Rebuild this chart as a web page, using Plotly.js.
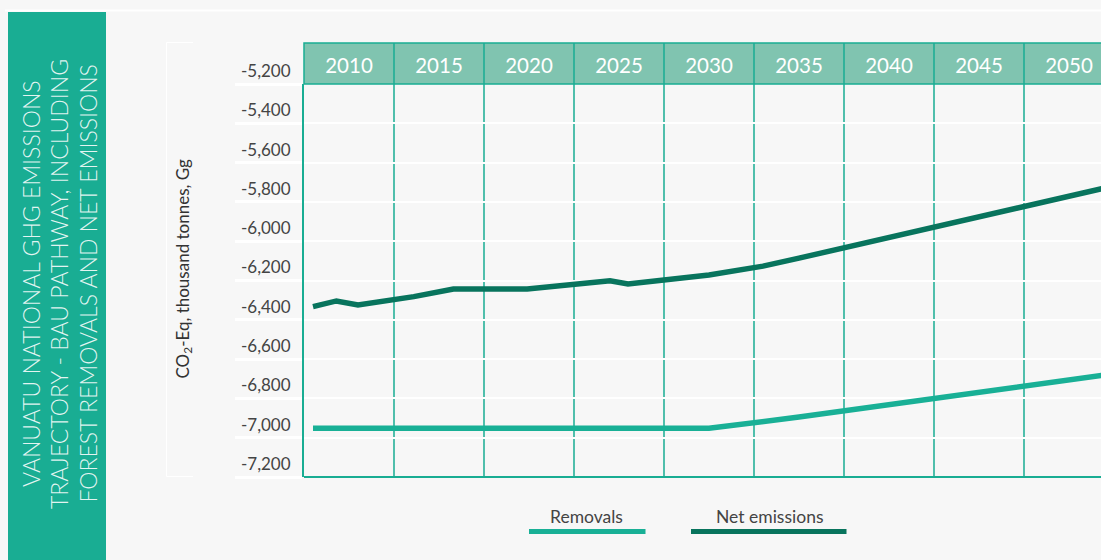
<!DOCTYPE html>
<html>
<head>
<meta charset="utf-8">
<script src="https://cdn.plot.ly/plotly-3.0.1.min.js"></script>
<style>
  html, body { margin: 0; padding: 0; background: #f7f7f7; }
  #chart { width: 1101px; height: 560px; }
</style>
</head>
<body>
<div id="chart"></div>
<script>
// ---- data -------------------------------------------------------------
const periodYears = [2010, 2015, 2020, 2025, 2030, 2035, 2040, 2045, 2050];
const periodLabels = ['2010', '2015', '2020', '2025', '2030', '2035', '2040', '2045', '2050'];
const yTickValues = [-7200, -7000, -6800, -6600, -6400, -6200, -6000, -5800, -5600, -5400, -5200];

const removalYears = [2008, 2030, 2035, 2040, 2045, 2050, 2052];
const removals = [-6952, -6952, -6895, -6832, -6769, -6706, -6681];

const netYears = [2008, 2009.3, 2010.5, 2013.6, 2015.8, 2019.9, 2024.5, 2025.5, 2030, 2033, 2035, 2040, 2045, 2050, 2052];
const netEmissions = [-6333, -6304, -6325, -6282, -6243, -6243, -6201, -6218, -6172, -6127, -6086, -5981, -5876, -5771, -5729];

const seriesNames = ['Removals', 'Net emissions'];
const titleLines = [
  'VANUATU NATIONAL GHG EMISSIONS',
  'TRAJECTORY - BAU PATHWAY, INCLUDING',
  'FOREST REMOVALS AND NET EMISSIONS'
];
const yAxisTitle = 'CO<sub>2</sub>-Eq, thousand tonnes, Gg';

// ---- styling ----------------------------------------------------------
const TEAL = '#19ad93';
const HEADER_FILL = '#80c4b0';
const REMOVALS_COLOR = '#19b096';
const NET_COLOR = '#08745d';
const BG = '#f7f7f7';
const FONT = 'Lato, "Open Sans", sans-serif';

// page geometry (pixels) and helpers to turn pixels into paper units
const W = 1101, H = 560, ML = 304, MR = 0, MT = 84, MB = 83;
const PW = W - ML - MR, PH = H - MT - MB;
const px = x => (x - ML) / PW;
const py = y => (H - MB - y) / PH;
const HEADER_TOP = py(43);

// column dividers halfway between period labels
const dividers = periodYears.slice(0, -1).map(y => y + 2.5);

const traces = [
  {
    x: removalYears, y: removals, name: seriesNames[0], type: 'scatter', mode: 'lines',
    line: { color: REMOVALS_COLOR, width: 5.5 }, showlegend: false, hoverinfo: 'skip'
  },
  {
    x: netYears, y: netEmissions, name: seriesNames[1], type: 'scatter', mode: 'lines',
    line: { color: NET_COLOR, width: 5.5 }, showlegend: false, hoverinfo: 'skip'
  }
];

const shapes = [
  // title panel
  { type: 'rect', xref: 'paper', yref: 'paper', x0: px(8), x1: px(106), y0: py(570), y1: py(12),
    fillcolor: TEAL, line: { width: 0 }, layer: 'below' },
  // thin white rule across the top
  { type: 'line', xref: 'paper', yref: 'paper', x0: px(5), x1: px(W + 5), y0: py(10.5), y1: py(10.5),
    line: { color: '#ffffff', width: 2 }, layer: 'below' },
  // header band with the period labels
  { type: 'rect', xref: 'paper', yref: 'paper', x0: 0, x1: px(W + 10), y0: 1, y1: HEADER_TOP,
    fillcolor: HEADER_FILL, line: { color: TEAL, width: 1.5 }, layer: 'below' },
  // bracket beside the axis title
  { type: 'line', xref: 'paper', yref: 'paper', x0: px(166.5), x1: px(166.5), y0: py(476.5), y1: py(42.5),
    line: { color: '#ffffff', width: 1 }, layer: 'below' },
  { type: 'line', xref: 'paper', yref: 'paper', x0: px(166.5), x1: px(193), y0: py(42.5), y1: py(42.5),
    line: { color: '#ffffff', width: 1 }, layer: 'below' },
  { type: 'line', xref: 'paper', yref: 'paper', x0: px(166.5), x1: px(193), y0: py(476.5), y1: py(476.5),
    line: { color: '#ffffff', width: 1 }, layer: 'below' },
  // bottom frame line
  { type: 'line', xref: 'paper', yref: 'paper', x0: 0, x1: 1, y0: 0, y1: 0,
    line: { color: TEAL, width: 2 }, layer: 'above' }
];

// vertical column dividers through header and plot
dividers.forEach(d => shapes.push({
  type: 'line', xref: 'x', yref: 'paper', x0: d, x1: d, y0: 0, y1: HEADER_TOP,
  line: { color: TEAL, width: 1.5 }, layer: 'below'
}));

// legend: name above a thick sample line
const legendItems = [
  { name: seriesNames[0], color: REMOVALS_COLOR, cx: 586, x0: 529, x1: 645.5 },
  { name: seriesNames[1], color: NET_COLOR, cx: 769, x0: 691, x1: 846.5 }
];
legendItems.forEach(it => shapes.push({
  type: 'line', xref: 'paper', yref: 'paper', x0: px(it.x0), x1: px(it.x1), y0: py(531.5), y1: py(531.5),
  line: { color: it.color, width: 5 }, layer: 'above'
}));

// rotated title, one annotation per line so the spacing can be set
const titleX = [31, 59, 87.5];
const annotations = titleLines.map((line, i) => ({
  text: line, xref: 'paper', yref: 'paper', x: px(titleX[i]), y: py(284),
  xanchor: 'center', yanchor: 'middle', textangle: -90, showarrow: false,
  font: { family: FONT, size: 23, weight: 300, color: 'rgba(255,255,255,0.88)' }
}));

annotations.push({
  text: yAxisTitle, xref: 'paper', yref: 'paper', x: px(183.5), y: py(269),
  xanchor: 'center', yanchor: 'middle', textangle: -90, showarrow: false,
  font: { family: FONT, size: 17, color: '#333333' }
});
legendItems.forEach(it => annotations.push({
  text: it.name, xref: 'paper', yref: 'paper', x: px(it.cx), y: py(516),
  xanchor: 'center', yanchor: 'middle', showarrow: false,
  font: { family: FONT, size: 17.5, color: '#444444' }
}));

const layout = {
  width: W, height: H,
  margin: { l: ML, r: MR, t: MT, b: MB, pad: 0 },
  paper_bgcolor: BG, plot_bgcolor: 'rgba(0,0,0,0)',
  font: { family: FONT, color: '#444444' },
  showlegend: false,
  xaxis: {
    range: [2007.5, 2007.5 + PW / 18],
    side: 'top',
    tickmode: 'array', tickvals: periodYears, ticktext: periodLabels,
    tickfont: { family: FONT, size: 20.5, color: '#ffffff' },
    ticks: '', showgrid: false, zeroline: false, showline: false,
    ticklabelstandoff: 6
  },
  yaxis: {
    range: [-7200, -5200],
    tickmode: 'array', tickvals: yTickValues,
    ticktext: yTickValues.map(v => v.toLocaleString('en-US')),
    tickfont: { family: FONT, size: 17, color: '#444444' },
    ticks: 'outside', ticklen: 67, tickwidth: 3, tickcolor: '#ffffff',
    ticklabelstandoff: -59, ticklabelshift: -13,
    showgrid: true, gridcolor: '#ffffff', gridwidth: 2,
    zeroline: false, showline: true, linecolor: TEAL, linewidth: 2
  },
  shapes: shapes,
  annotations: annotations
};

Plotly.newPlot('chart', traces, layout, { displayModeBar: false, staticPlot: true });
</script>
</body>
</html>
